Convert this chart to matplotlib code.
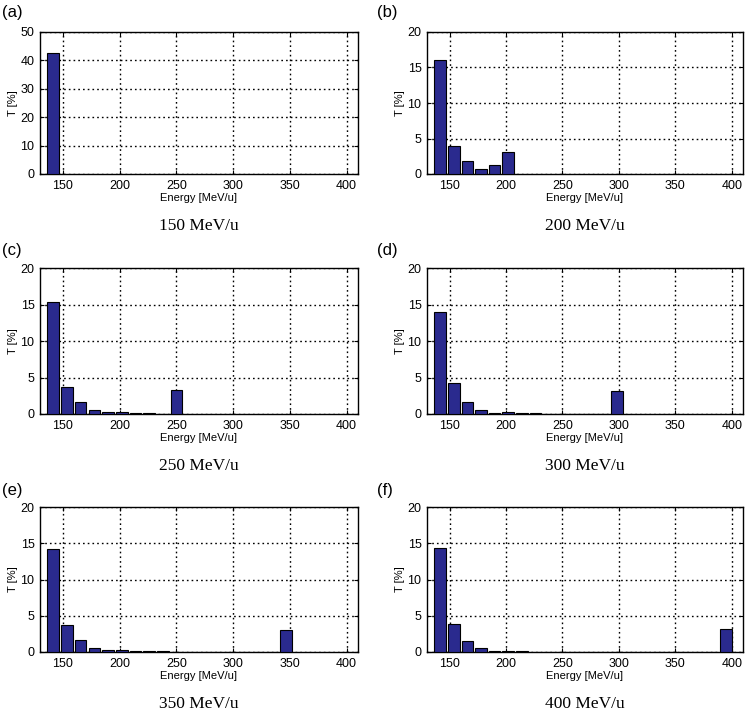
import matplotlib
matplotlib.use("Agg")
import matplotlib.pyplot as plt
import numpy as np

# Data
bin_start = 141.7
bin_width = 12.05
captions = ["150 MeV/u", "200 MeV/u", "250 MeV/u", "300 MeV/u", "350 MeV/u", "400 MeV/u"]
panel_labels = ["(a)", "(b)", "(c)", "(d)", "(e)", "(f)"]
vals_150 = [42.5]
vals_200 = [16.1, 4.0, 1.8, 0.7, 1.2, 3.1]
vals_250 = [15.3, 3.7, 1.6, 0.5, 0.3, 0.3, 0.1, 0.1, 0.0, 3.3]
vals_300 = [14.0, 4.2, 1.6, 0.5, 0.15, 0.3, 0.1, 0.1, 0.0, 0.0, 0.0, 0.0, 0.0, 3.1]
vals_350 = [14.2, 3.7, 1.6, 0.5, 0.3, 0.3, 0.1, 0.1, 0.1, 0.0, 0.0, 0.0, 0.0, 0.0,
            0.0, 0.0, 0.0, 3.1]
vals_400 = [14.3, 3.8, 1.5, 0.6, 0.2, 0.2, 0.2, 0.0, 0.0, 0.0, 0.0, 0.0, 0.0, 0.0,
            0.0, 0.0, 0.0, 0.0, 0.0, 0.0, 0.0, 3.2]
all_vals = [vals_150, vals_200, vals_250, vals_300, vals_350, vals_400]
ymax = [50, 20, 20, 20, 20, 20]
yticks_list = [[0, 10, 20, 30, 40, 50]] + [[0, 5, 10, 15, 20]] * 5
xticks = [150, 200, 250, 300, 350, 400]

W, H = 750, 713
fig = plt.figure(figsize=(W / 100, H / 100), dpi=100)

# axes boxes in pixels: left, right, top, bottom
boxes = [
    (40, 358, 32, 174),
    (427, 743, 32, 174),
    (40, 358, 268, 414),
    (427, 743, 268, 414),
    (40, 358, 507, 652),
    (427, 743, 507, 652),
]
label_pos = [(2, 12), (377, 12), (2, 250), (377, 250), (2, 490), (377, 490)]

bar_color = "#2a2a8e"
sans = ["Liberation Sans", "DejaVu Sans"]
serif = ["Liberation Serif", "DejaVu Serif"]

for i, (l, r, t, b) in enumerate(boxes):
    ax = fig.add_axes([l / W, 1 - b / H, (r - l) / W, (b - t) / H])
    vals = all_vals[i]
    centers = bin_start + bin_width * np.arange(len(vals))
    ax.bar(centers, vals, width=10.2, color=bar_color, edgecolor="black", linewidth=0.8, zorder=3)
    ax.set_xlim(130, 410)
    ax.set_ylim(0, ymax[i])
    ax.set_xticks(xticks)
    ax.set_yticks(yticks_list[i])
    ax.grid(True, linestyle=(0, (1.2, 2.2)), color="black", linewidth=1.0, zorder=1)
    ax.tick_params(direction="in", length=3, width=0.8, top=True, right=True,
                   labelsize=9, pad=4)
    for lab in ax.get_xticklabels() + ax.get_yticklabels():
        lab.set_family(sans)
    for s in ax.spines.values():
        s.set_linewidth(1.0)
    ax.set_xlabel("Energy [MeV/u]", fontsize=8, family=sans, labelpad=1)
    ax.set_ylabel("T [%]", fontsize=8, family=sans, labelpad=2)
    cx = (l + r) / 2
    fig.text(cx / W, 1 - 226 / H - (b - 174) / H, captions[i], ha="center", va="center",
             fontsize=12.5, family=serif)
    lx, ly = label_pos[i]
    fig.text(lx / W, 1 - ly / H, panel_labels[i], ha="left", va="center",
             fontsize=12, family=sans)

fig.savefig("out.png", dpi=100, facecolor="white")
